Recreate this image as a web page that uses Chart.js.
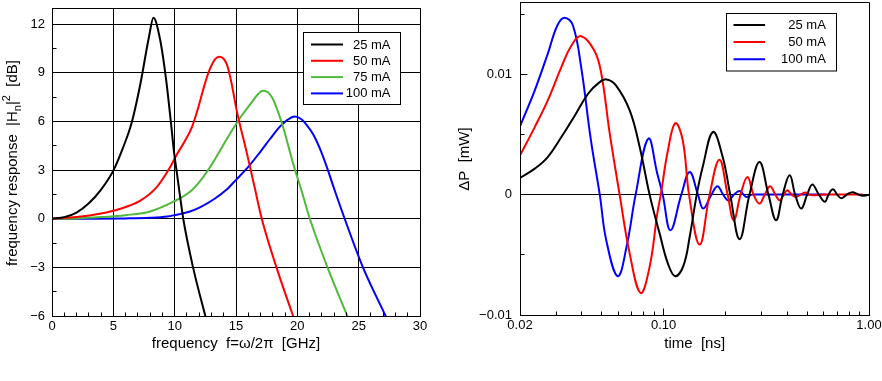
<!DOCTYPE html>
<html><head><meta charset="utf-8">
<script src="https://cdn.jsdelivr.net/npm/chart.js@4"></script>
<style>
html,body{margin:0;padding:0;background:#fff;}
#wrap{position:relative;width:882px;height:381px;overflow:hidden;background:#fff;}
#c1{position:absolute;left:0;top:0;}
#c2{position:absolute;left:440px;top:0;}
</style></head><body>
<div id="wrap"><canvas id="c1" width="440" height="381"></canvas><canvas id="c2" width="442" height="381"></canvas></div>
<script>
const FONT = "'Liberation Sans', Arial, Helvetica, sans-serif";
const TICK_SIZE = 13, TITLE_SIZE = 15, LEGEND_SIZE = 13;

// ---------- Left chart: frequency response ----------
const leftLabels = ['25 mA', '50 mA', '75 mA', '100 mA'];
const leftColors = ['#000000', '#ff0000', '#4fb93a', '#0000ff'];
const freq25 = [0, 1, 2, 3, 4, 5, 5.8, 6.5, 7.2, 7.9, 8.27, 8.8, 9.3, 9.7, 9.95, 10.15, 10.4, 10.7, 11.5, 12.5, 13.2];
const resp25 = [0, 0.1, 0.38, 0.95, 1.8, 2.97, 4.4, 5.94, 8.3, 11.2, 12.4, 11.1, 8.6, 5.9, 4.1, 3.0, 1.6, 0, -3, -6, -8];
const freq50 = [0, 2, 4, 5.5, 7.2, 8.5, 9.6, 10.2, 10.8, 11.4, 11.9, 12.3, 12.7, 13.0, 13.3, 13.64, 13.95, 14.24, 14.6, 15.05, 15.9, 16.5, 17.1, 18.3, 19.66, 20.4];
const resp50 = [0, 0.1, 0.32, 0.6, 1.12, 1.92, 3.15, 4.0, 4.75, 5.63, 6.8, 7.9, 8.9, 9.45, 9.85, 10.0, 9.9, 9.55, 8.5, 6.7, 4.0, 2.0, 0, -3, -6, -7.5];
const freq75 = [0, 2, 4, 6, 8, 9.9, 11.3, 12.2, 13.15, 14.0, 14.8, 15.5, 16.2, 16.7, 17.17, 17.6, 18.0, 18.4, 18.85, 19.66, 20.34, 21.02, 22.46, 24.08, 25];
const resp75 = [0, 0.02, 0.1, 0.22, 0.45, 1.05, 1.7, 2.45, 3.5, 4.6, 5.6, 6.4, 7.1, 7.6, 7.9, 7.8, 7.4, 6.65, 5.63, 3.4, 1.74, 0, -3, -6, -7.6];
const freq100 = [0, 3, 6, 8, 9.4, 10.5, 11.25, 12.1, 13.2, 14.24, 15.0, 16.0, 16.95, 17.8, 18.6, 19.2, 19.8, 20.3, 20.8, 21.3, 21.8, 22.4, 23.05, 23.86, 25.35, 27.2, 28];
const resp100 = [0, 0, 0.02, 0.06, 0.14, 0.3, 0.45, 0.72, 1.2, 1.8, 2.4, 3.2, 4.1, 4.95, 5.7, 6.1, 6.3, 6.15, 5.75, 5.2, 4.4, 3.2, 1.74, 0, -3, -6, -7.3];
const leftX = [freq25, freq50, freq75, freq100];
const leftY = [resp25, resp50, resp75, resp100];
const leftXTicks = [0, 5, 10, 15, 20, 25, 30];
const leftYTicks = [-6, -3, 0, 3, 6, 9, 12];
const leftXMinor = [1,2,3,4,6,7,8,9,11,12,13,14,16,17,18,19,21,22,23,24,26,27,28,29];
const leftYMinor = [-4.5, -1.5, 1.5, 4.5, 7.5, 10.5];

// ---------- Right chart: power transient ----------
const rightLabels = ['25 mA', '50 mA', '100 mA'];
const rightColors = ['#000000', '#ff0000', '#0000ff'];
const time25 = [0.02, 0.0236, 0.0273, 0.0318, 0.037, 0.0429, 0.0485, 0.0527, 0.0585, 0.0684, 0.0765, 0.0855, 0.0957, 0.105, 0.114, 0.125, 0.134, 0.145, 0.155, 0.174, 0.194, 0.211, 0.2345, 0.262, 0.293, 0.324, 0.353, 0.38, 0.411, 0.437, 0.468, 0.50, 0.53, 0.57, 0.61, 0.635, 0.668, 0.70, 0.733, 0.78, 0.83, 0.89, 0.95, 1.0];
const pow25 = [0.00138, 0.00216, 0.00312, 0.00478, 0.00658, 0.00838, 0.0093, 0.00957, 0.0091, 0.0070, 0.00395, 0, -0.00324, -0.00573, -0.00678, -0.0059, -0.0035, 0, 0.00229, 0.0052, 0.00312, 0, -0.0037, 0, 0.0027, 0, -0.00213, 0, 0.0016, 0, -0.00116, 0, 0.00085, 0, -0.0006, 0, 0.00044, 0, -0.0003, 0, 0.0002, 0, -0.0001, 0];
const time50 = [0.02, 0.0236, 0.0273, 0.0318, 0.0356, 0.0397, 0.046, 0.0497, 0.0547, 0.0611, 0.0684, 0.0773, 0.0855, 0.0932, 0.0969, 0.105, 0.1141, 0.124, 0.133, 0.1498, 0.1675, 0.187, 0.205, 0.2196, 0.237, 0.256, 0.274, 0.293, 0.311, 0.33, 0.35, 0.368, 0.385, 0.40, 0.42, 0.44, 0.465, 0.49, 0.51, 0.53, 0.6, 0.75, 0.93];
const pow50 = [0.00326, 0.00561, 0.00783, 0.01059, 0.01239, 0.01316, 0.01197, 0.0101, 0.00506, 0, -0.0049, -0.00817, -0.006, -0.00158, 0, 0.00368, 0.00594, 0.0045, 0, -0.00415, 0, 0.0029, 0, -0.00213, 0, 0.00146, 0, -0.00075, 0, 0.00069, 0, -0.00047, 0, 0.00036, 0, -0.0002, 0, 0.00017, 0, -0.00006, 0, 0, 0];
const time100 = [0.02, 0.0236, 0.0273, 0.0304, 0.033, 0.0362, 0.0397, 0.0443, 0.0489, 0.0526, 0.0598, 0.066, 0.0731, 0.0843, 0.0932, 0.099, 0.108, 0.122, 0.134, 0.147, 0.156, 0.171, 0.183, 0.195, 0.207, 0.22, 0.2345, 0.245, 0.253, 0.27, 0.3, 0.4, 0.5, 0.62];
const pow100 = [0.00567, 0.00866, 0.0117, 0.01405, 0.01469, 0.01405, 0.01059, 0.0045, 0, -0.0038, -0.00678, -0.00435, 0, 0.00465, 0.00174, 0, -0.00296, 0, 0.00188, 0, -0.00116, 0, 0.00069, 0, -0.0005, 0, 0.0003, 0, -0.0002, 0, 0, 0, 0, 0];
const rightX = [time25, time50, time100];
const rightY = [pow25, pow50, pow100];
const rightXTicks = [0.02, 0.1, 1.0];
const rightYTicks = [-0.01, 0, 0.01];
const rightXMinor = [0.03, 0.04, 0.05, 0.06, 0.07, 0.08, 0.09, 0.2, 0.3, 0.4, 0.5, 0.6, 0.7, 0.8, 0.9];
const rightYMinor = [-0.005, 0.005, 0.015];

// ---------- helpers ----------
const minus = v => (v < 0 ? '\u2212' : '') + Math.abs(v);
const alignPx = p => Math.round(p - 0.5) + 0.5;
const pts = (xs, ys) => xs.map((x, i) => ({ x: x, y: ys[i] }));
const noPad = s => { s.paddingTop = 0; s.paddingBottom = 0; s.paddingLeft = 0; s.paddingRight = 0; };

function drawRich(ctx, parts, cx, cy, rot) {
  ctx.save();
  ctx.translate(cx, cy);
  if (rot) ctx.rotate(rot);
  ctx.textBaseline = 'alphabetic';
  ctx.textAlign = 'left';
  ctx.fillStyle = '#000';
  let total = 0;
  parts.forEach(p => { ctx.font = p.s + 'px ' + FONT; p.w = ctx.measureText(p.t).width; total += p.w; });
  let x = -total / 2;
  parts.forEach(p => { ctx.font = p.s + 'px ' + FONT; ctx.fillText(p.t, x, p.dy || 0); x += p.w; });
  ctx.restore();
}

const decor = {
  id: 'decor',
  afterDatasetsDraw(chart, args, o) {
    const ctx = chart.ctx, a = chart.chartArea;
    const xs = chart.scales.x, ys = chart.scales.y;
    const L = alignPx(a.left), R = alignPx(a.right), T = alignPx(a.top), B = alignPx(a.bottom);
    ctx.save();
    ctx.strokeStyle = '#000';
    ctx.lineWidth = 1;
    ctx.beginPath();
    ctx.rect(L, T, R - L, B - T);
    (o.xMarks || []).forEach(m => { const px = alignPx(xs.getPixelForValue(m[0])); ctx.moveTo(px, B); ctx.lineTo(px, B - m[1]); });
    (o.yMarks || []).forEach(m => { const py = alignPx(ys.getPixelForValue(m[0])); ctx.moveTo(L, py); ctx.lineTo(L + m[1], py); });
    ctx.stroke();
    const lg = o.legend;
    if (lg) {
      const bx = Math.round(a.right - lg.fromRight) + 0.5, by = Math.round(a.top + lg.fromTop) + 0.5;
      ctx.fillStyle = '#fff';
      ctx.fillRect(bx, by, lg.w, lg.h);
      ctx.strokeRect(bx, by, lg.w, lg.h);
      ctx.font = LEGEND_SIZE + 'px ' + FONT;
      ctx.textAlign = 'right';
      ctx.textBaseline = 'middle';
      chart.data.datasets.forEach((ds, i) => {
        const y = by + lg.row0 + i * lg.rowH;
        ctx.strokeStyle = ds.borderColor;
        ctx.lineWidth = 2;
        ctx.beginPath();
        ctx.moveTo(bx + lg.l0, y); ctx.lineTo(bx + lg.l1, y);
        ctx.stroke();
        ctx.fillStyle = '#000';
        ctx.fillText(ds.label, bx + lg.tr, y + 0.5);
      });
    }
    ctx.restore();
  },
  afterDraw(chart, args, o) {
    const ctx = chart.ctx;
    (o.titles || []).forEach(t => drawRich(ctx, t.parts, t.x, t.y, t.rot));
  }
};

function makeDatasets(labels, colors, X, Y, mono) {
  return labels.map((lab, i) => ({
    label: lab,
    data: pts(X[i], Y[i]),
    borderColor: colors[i],
    backgroundColor: colors[i],
    borderWidth: 2,
    pointRadius: 0,
    fill: false,
    tension: 0.4,
    cubicInterpolationMode: mono ? 'monotone' : 'default'
  }));
}

const tickFont = { family: FONT, size: TICK_SIZE };

// ---------- Left chart ----------
new Chart(document.getElementById('c1'), {
  type: 'line',
  data: { datasets: makeDatasets(leftLabels, leftColors, leftX, leftY, true) },
  plugins: [decor],
  options: {
    responsive: false, animation: false, devicePixelRatio: 1,
    layout: { padding: { top: 8, right: 20, left: 0, bottom: 0 } },
    plugins: {
      legend: { display: false }, tooltip: { enabled: false },
      decor: {
        xMarks: leftXMinor.map(v => [v, 4]),
        yMarks: leftYMinor.map(v => [v, 4]),
        legend: { fromRight: 117, fromTop: 23.5, w: 97, h: 72, row0: 12, rowH: 16.3, l0: 7.5, l1: 39.5, tr: 87 },
        titles: [
          { x: 236, y: 348, rot: 0, parts: [{ t: 'frequency  f=\u03c9/2\u03c0  [GHz]', s: TITLE_SIZE }] },
          { x: 16.5, y: 163, rot: -Math.PI / 2, parts: [
            { t: 'frequency response  |H', s: TITLE_SIZE },
            { t: 'n', s: 11, dy: 4 },
            { t: '|', s: TITLE_SIZE },
            { t: '2', s: 11, dy: -7 },
            { t: '  [dB]', s: TITLE_SIZE }
          ] }
        ]
      }
    },
    scales: {
      x: {
        type: 'linear', min: 0, max: 30,
        afterBuildTicks: s => { s.ticks = leftXTicks.map(v => ({ value: v })); },
        afterFit: s => { s.height = 65; noPad(s); },
        ticks: { font: tickFont, color: '#000', padding: 3, maxRotation: 0, autoSkip: false, callback: v => minus(v) },
        grid: { color: '#000', lineWidth: 1, drawTicks: false },
        border: { display: true, color: '#000', width: 1 }
      },
      y: {
        type: 'linear', min: -6, max: 13,
        afterBuildTicks: s => { s.ticks = leftYTicks.map(v => ({ value: v })); },
        afterFit: s => { s.width = 52; noPad(s); },
        ticks: { font: tickFont, color: '#000', padding: 7, autoSkip: false, callback: v => minus(v) },
        grid: { color: '#000', lineWidth: 1, drawTicks: false },
        border: { display: true, color: '#000', width: 1 }
      }
    }
  }
});

// ---------- Right chart ----------
new Chart(document.getElementById('c2'), {
  type: 'line',
  data: { datasets: makeDatasets(rightLabels, rightColors, rightX, rightY, false) },
  plugins: [decor],
  options: {
    responsive: false, animation: false, devicePixelRatio: 1,
    layout: { padding: { top: 2, right: 13, left: 0, bottom: 0 } },
    plugins: {
      legend: { display: false }, tooltip: { enabled: false },
      decor: {
        xMarks: rightXMinor.map(v => [v, 4]).concat([[0.1, 7]]),
        yMarks: rightYMinor.map(v => [v, 4]).concat([[0.01, 7]]),
        legend: { fromRight: 143.5, fromTop: 11.3, w: 110, h: 57.5, row0: 11.4, rowH: 17.2, l0: 7, l1: 38.6, tr: 99.3 },
        titles: [
          { x: 254.7, y: 348, rot: 0, parts: [{ t: 'time  [ns]', s: TITLE_SIZE }] },
          { x: 29, y: 159, rot: -Math.PI / 2, parts: [{ t: '\u0394P  [mW]', s: TITLE_SIZE }] }
        ]
      }
    },
    scales: {
      x: {
        type: 'logarithmic', min: 0.02, max: 1.0,
        afterBuildTicks: s => { s.ticks = rightXTicks.map(v => ({ value: v })); },
        afterFit: s => { s.height = 66; noPad(s); },
        ticks: { font: tickFont, color: '#000', padding: 3, maxRotation: 0, autoSkip: false, callback: v => Number(v).toFixed(2) },
        grid: { display: false, drawTicks: false },
        border: { display: true, color: '#000', width: 1 }
      },
      y: {
        type: 'linear', min: -0.01, max: 0.016,
        afterBuildTicks: s => { s.ticks = rightYTicks.map(v => ({ value: v })); },
        afterFit: s => { s.width = 80; noPad(s); },
        ticks: { font: tickFont, color: '#000', padding: 8, autoSkip: false, callback: v => minus(v) },
        grid: { drawTicks: false, lineWidth: 1, color: c => (c.tick && c.tick.value === 0 ? '#000' : 'rgba(0,0,0,0)') },
        border: { display: true, color: '#000', width: 1 }
      }
    }
  }
});
</script>
</body></html>
